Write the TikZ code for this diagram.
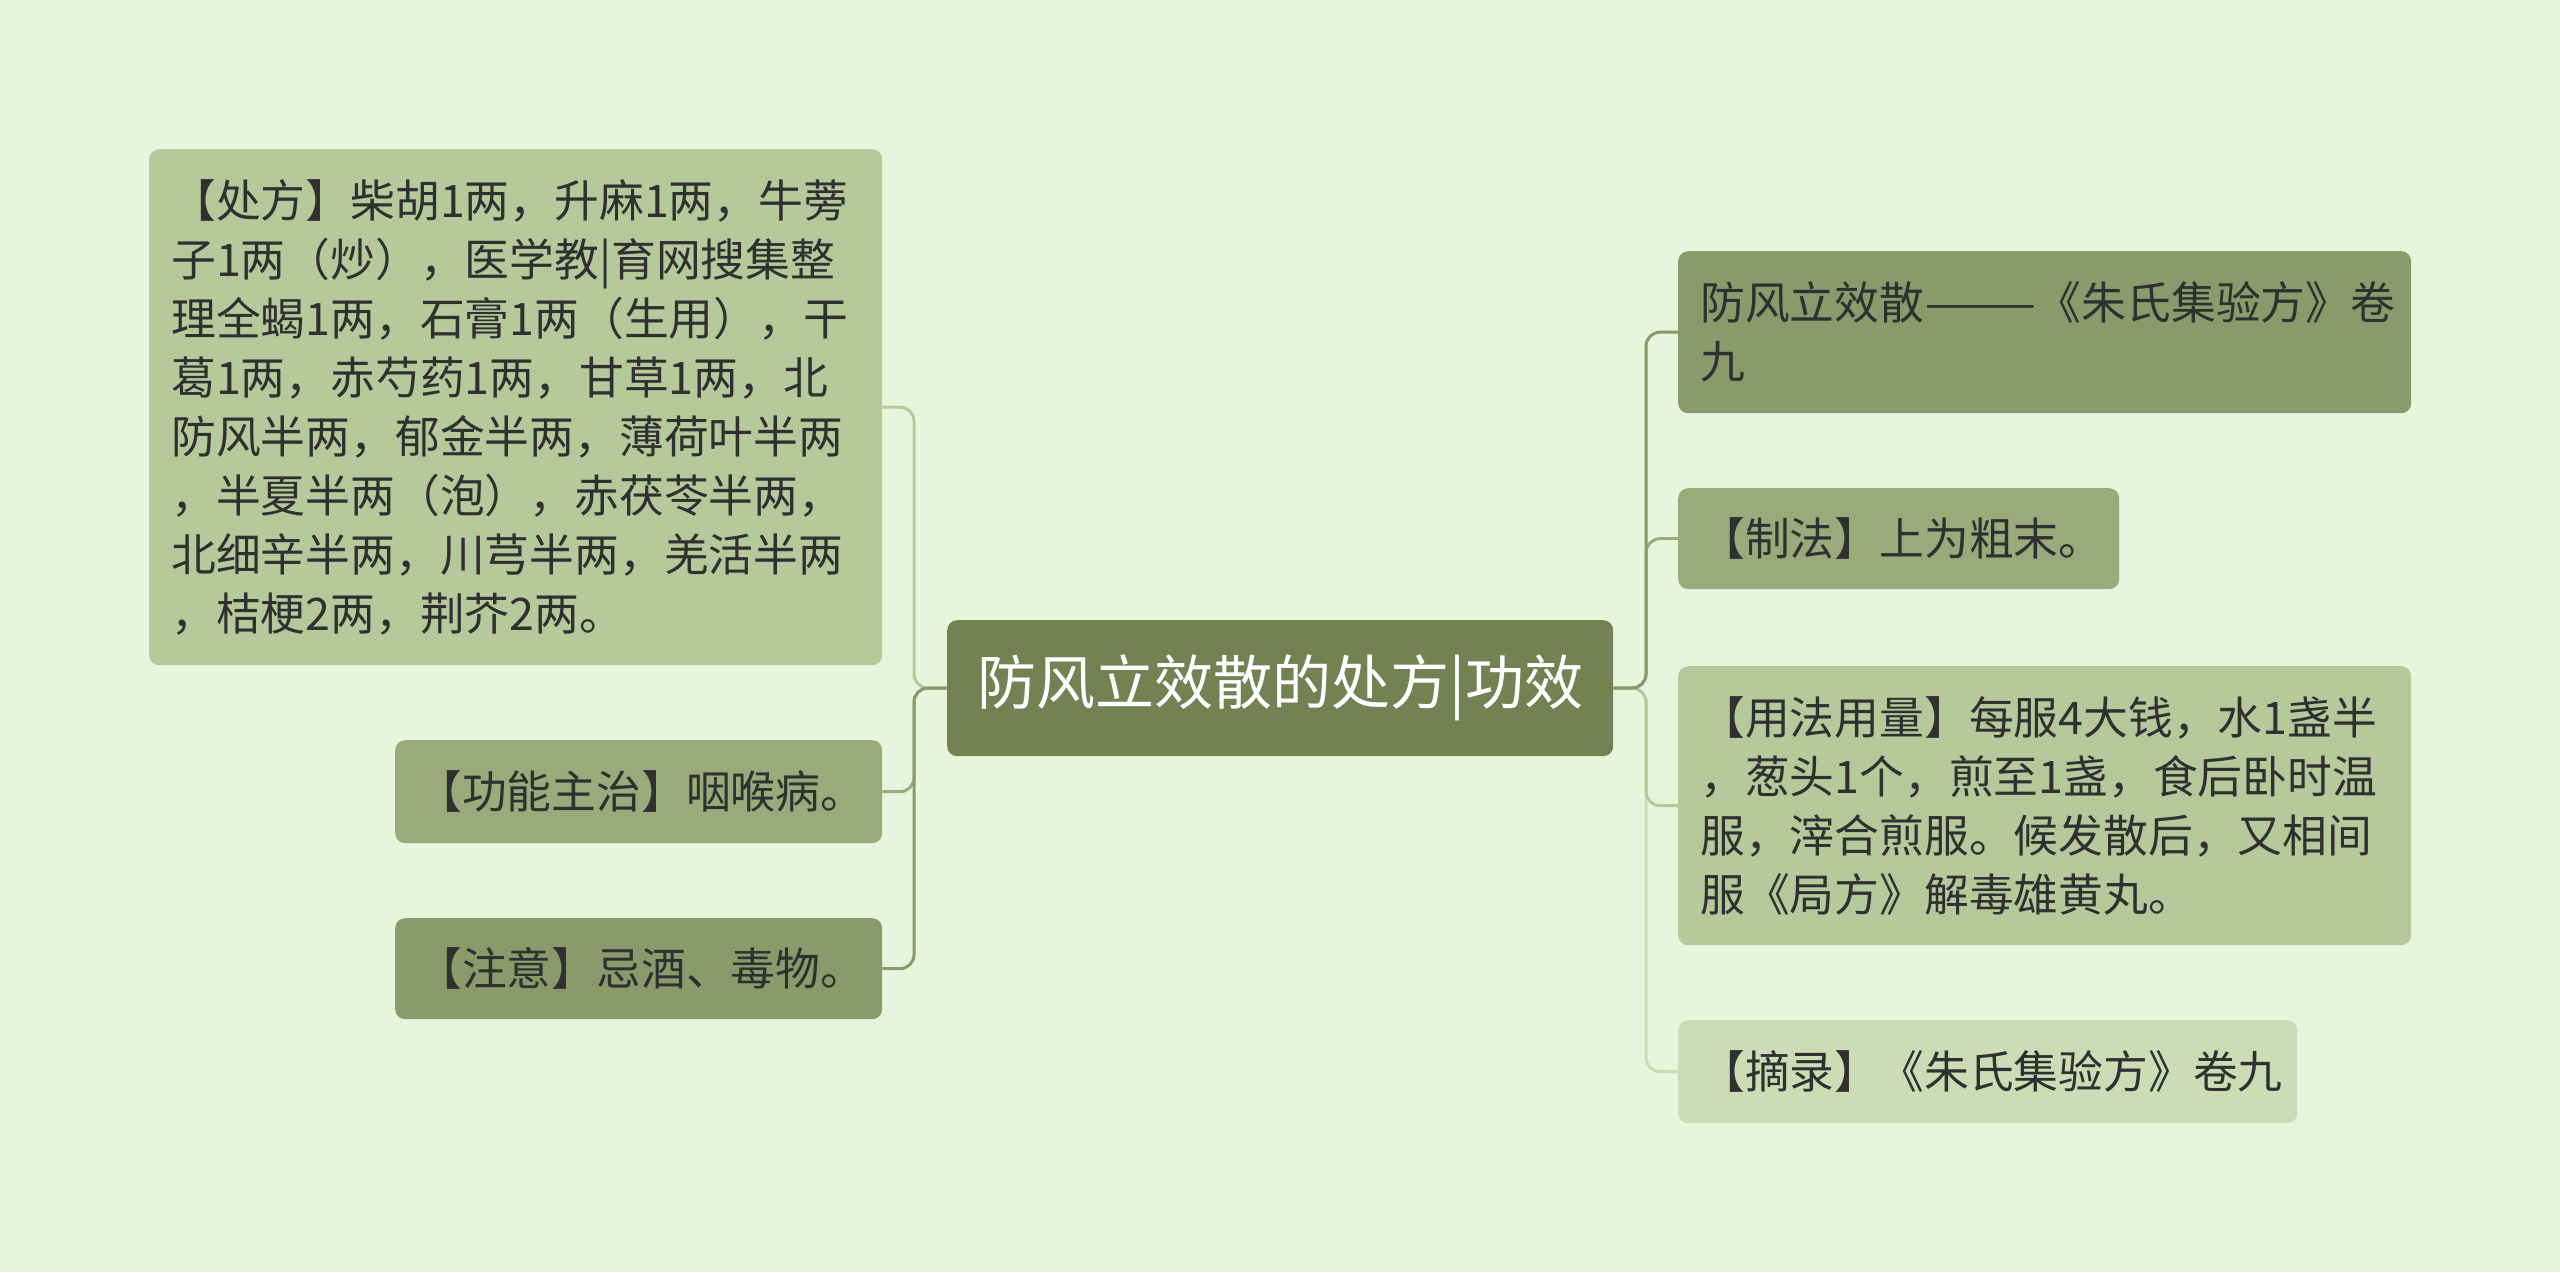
\documentclass[tikz,border=0pt]{standalone}
\usepackage{graphicx}
\usepackage{fontspec}
\setmainfont{Noto Sans CJK SC}
\definecolor{bg}{RGB}{232,245,221}
\definecolor{rootc}{RGB}{115,129,83}
\definecolor{darkc}{RGB}{138,154,107}
\definecolor{midc}{RGB}{154,170,123}
\definecolor{lightc}{RGB}{181,201,155}
\definecolor{palec}{RGB}{204,221,181}
\definecolor{txt}{RGB}{48,48,48}
\begin{document}
\begin{tikzpicture}[x=1pt,y=-1pt,
  box/.style={rounded corners=10pt, inner xsep=22pt, inner ysep=0pt, anchor=north west,
    align=left, text=txt, font=\fontsize{44.8}{59}\selectfont},
  link/.style={line width=3pt, rounded corners=14pt}]
\useasboundingbox[fill=bg] (0,0) rectangle (2560,1272);
% root
\node[rounded corners=10pt, fill=rootc, draw=none, anchor=north west, minimum width=666pt, minimum height=136pt,
  text=white, font=\fontsize{59}{70}\selectfont, inner sep=0pt] (root) at (947,620) {防风立效散的处方|功效};
% left nodes
\node[box, fill=lightc, text width=689pt, minimum height=516pt] (l1) at (149,149)
 {【处方】柴胡1两，升麻1两，牛蒡\\子1两（炒），医学教|育网搜集整\\理全蝎1两，石膏1两（生用），干\\葛1两，赤芍药1两，甘草1两，北\\防风半两，郁金半两，薄荷叶半两\\，半夏半两（泡），赤茯苓半两，\\北细辛半两，川芎半两，羌活半两\\，桔梗2两，荆芥2两。};
\node[box, fill=midc, text width=443pt, minimum height=103pt] (l2) at (395,740) {【功能主治】咽喉病。};
\node[box, fill=darkc, text width=443pt, minimum height=101pt] (l3) at (395,918) {【注意】忌酒、毒物。};
% right nodes
\node[box, fill=darkc, text width=689pt, minimum height=162pt] (r1) at (1678,251)
 {防风立效散\scalebox{1.5}[1]{——}《朱氏集验方》卷\\九};
\node[box, fill=midc, text width=397pt, minimum height=101pt] (r2) at (1678,488) {【制法】上为粗末。};
\node[box, fill=lightc, text width=689pt, minimum height=279pt] (r3) at (1678,666)
 {【用法用量】每服4大钱，水1盏半\\，葱头1个，煎至1盏，食后卧时温\\服，滓合煎服。候发散后，又相间\\服《局方》解毒雄黄丸。};
\node[box, fill=palec, text width=575pt, minimum height=103pt] (r4) at (1678,1020) {【摘录】《朱氏集验方》卷九};
% connectors
\coordinate (lt) at (914,688);
\coordinate (rt) at (1646,688);
\draw[link, draw=lightc] (root.west) -- (lt) |- (l1.east);
\draw[link, draw=midc] (root.west) -- (lt) |- (l2.east);
\draw[link, draw=darkc] (root.west) -- (lt) |- (l3.east);
\draw[link, draw=palec] (root.east) -- (rt) |- (r4.west);
\draw[link, draw=lightc] (root.east) -- (rt) |- (r3.west);
\draw[link, draw=midc] (root.east) -- (rt) |- (r2.west);
\draw[link, draw=darkc] (root.east) -- (rt) |- (r1.west);
\end{tikzpicture}
\end{document}
